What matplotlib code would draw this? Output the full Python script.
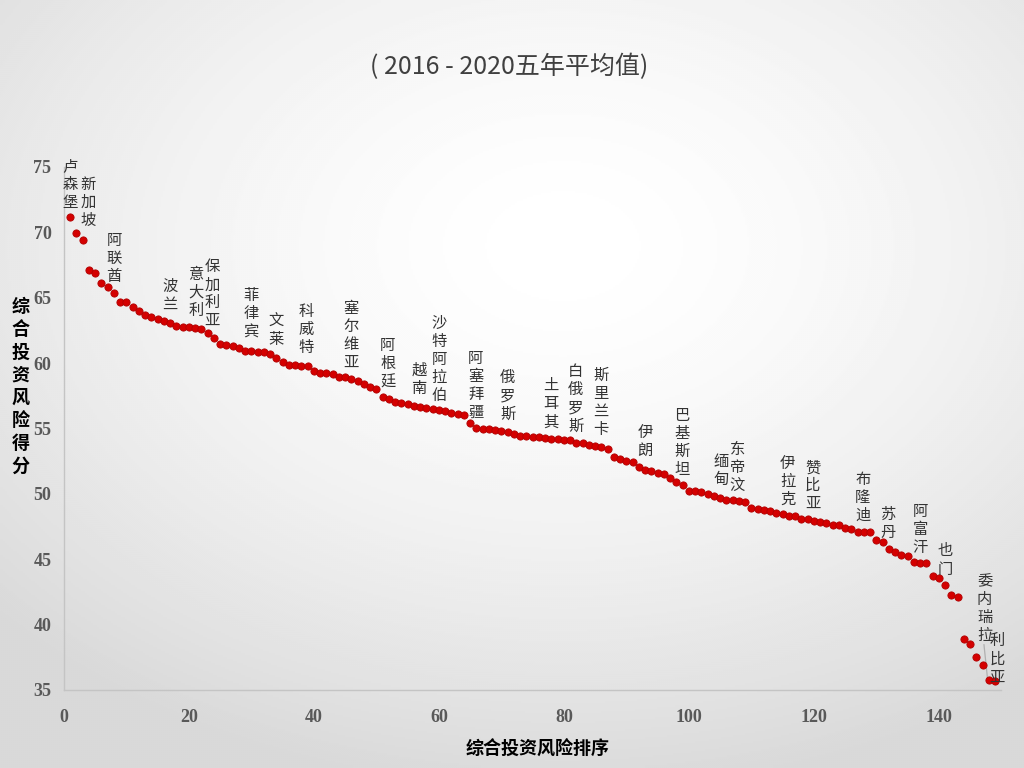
import numpy as np
import matplotlib
matplotlib.use("Agg")
import matplotlib.pyplot as plt

plt.rcParams['font.family'] = ['Noto Sans CJK SC', 'DejaVu Sans']

# ---------------- data ----------------
scores = [
    71.15, 69.93, 69.42, 67.13, 66.87, 66.11, 65.85, 65.34, 64.70, 64.70,
    64.32, 63.99, 63.69, 63.51, 63.38, 63.25, 63.05, 62.84, 62.79, 62.74,
    62.67, 62.61, 62.28, 61.93, 61.43, 61.39, 61.31, 61.14, 60.96, 60.91,
    60.88, 60.86, 60.70, 60.42, 60.07, 59.89, 59.84, 59.81, 59.81, 59.43,
    59.23, 59.23, 59.17, 58.97, 58.92, 58.77, 58.66, 58.41, 58.18, 58.03,
    57.44, 57.24, 57.06, 56.93, 56.86, 56.73, 56.67, 56.60, 56.52, 56.42,
    56.32, 56.21, 56.14, 56.06, 55.45, 55.02, 54.97, 54.95, 54.89, 54.82,
    54.72, 54.54, 54.46, 54.43, 54.38, 54.33, 54.28, 54.20, 54.18, 54.13,
    54.08, 53.92, 53.87, 53.77, 53.69, 53.62, 53.44, 52.85, 52.65, 52.55,
    52.47, 52.03, 51.83, 51.71, 51.62, 51.52, 51.24, 50.94, 50.64, 50.25,
    50.20, 50.16, 49.99, 49.80, 49.68, 49.56, 49.54, 49.42, 49.38, 48.91,
    48.83, 48.78, 48.68, 48.57, 48.49, 48.27, 48.27, 48.11, 48.06, 47.94,
    47.88, 47.76, 47.63, 47.58, 47.42, 47.30, 47.10, 47.05, 47.05, 46.44,
    46.29, 45.80, 45.52, 45.32, 45.26, 44.75, 44.70, 44.68, 43.68, 43.55,
    43.02, 42.23, 42.10, 38.92, 38.53, 37.49, 36.93, 35.73, 35.66,
]
ranks = list(range(1, len(scores) + 1))

country_names = [
    "卢森堡", "新加坡", "阿联酋", "波兰", "意大利", "保加利亚", "菲律宾", "文莱",
    "科威特", "塞尔维亚", "阿根廷", "越南", "沙特阿拉伯", "阿塞拜疆", "俄罗斯",
    "土耳其", "白俄罗斯", "斯里兰卡", "伊朗", "巴基斯坦", "缅甸", "东帝汶",
    "伊拉克", "赞比亚", "布隆迪", "苏丹", "阿富汗", "也门", "委内瑞拉", "利比亚",
]
# label anchor (top-centre) positions in data coordinates
label_x = [0.96, 3.84, 8.0, 16.96, 21.1, 23.7, 29.9, 33.9,
           38.8, 45.9, 51.8, 56.8, 60.0, 65.9, 71.0,
           77.9, 81.9, 85.9, 93.0, 98.9, 105.1, 107.7,
           115.8, 119.8, 127.8, 131.8, 137.0, 141.0, 147.3, 149.3]
label_y = [75.69, 74.31, 70.05, 66.51, 67.43, 68.02, 65.80, 63.81,
           64.58, 64.83, 61.98, 60.12, 63.69, 61.01, 59.53,
           58.92, 59.99, 59.73, 55.35, 56.63, 53.11, 54.07,
           52.98, 52.65, 51.78, 49.08, 49.33, 46.28, 43.94, 39.40]

x_ticks = [0, 20, 40, 60, 80, 100, 120, 140]
y_ticks = [35, 40, 45, 50, 55, 60, 65, 70, 75]

title_text = "( 2016 - 2020五年平均值)"
x_label = "综合投资风险排序"
y_label = "综合投资风险得分"

# ---------------- figure ----------------
fig = plt.figure(figsize=(10.24, 7.68), dpi=100)

# background radial gradient
bg = fig.add_axes([0, 0, 1, 1], zorder=-10)
yy, xx = np.mgrid[0:1:384j, 0:1:512j]
r = np.sqrt(((xx - 0.55) / 1.0) ** 2 + ((yy - 0.32) / 0.95) ** 2)
val = 1.0 - 0.15 * np.clip(r / 0.75, 0, 1) ** 1.6
bg.imshow(val, cmap='gray', vmin=0, vmax=1, aspect='auto',
          extent=[0, 1, 0, 1], origin='upper', interpolation='bilinear')
bg.axis('off')

ax = fig.add_axes([0.0625, 0.1016, 0.978 - 0.0625, 0.7826 - 0.1016])
ax.set_facecolor('none')

ax.plot(ranks, scores, linestyle='none', marker='o', markersize=5.2,
        markerfacecolor='#d40000', markeredgecolor='#b00000',
        markeredgewidth=0.6, zorder=3, clip_on=False)

ax.set_xlim(0, 150)
ax.set_ylim(35, 75)
ax.set_xticks(x_ticks)
ax.set_yticks(y_ticks)

for s in ['top', 'right']:
    ax.spines[s].set_visible(False)
for s in ['left', 'bottom']:
    ax.spines[s].set_color('#c4c4c4')
    ax.spines[s].set_linewidth(1.0)

ax.tick_params(axis='both', length=0)
ax.tick_params(axis='y', pad=9)
ax.tick_params(axis='x', pad=14)
for lab in ax.get_xticklabels() + ax.get_yticklabels():
    lab.set_fontfamily('Liberation Serif')
    lab.set_fontweight('bold')
    lab.set_fontsize(13)
    lab.set_color('#595959')

# country labels
for name, lx, ly in zip(country_names, label_x, label_y):
    ax.text(lx, ly, "\n".join(name), ha='center', va='top',
            fontsize=11, color='#333333', linespacing=1.08,
            clip_on=False, zorder=4)

# leader line for 委内瑞拉
ax.plot([147.2, 147.75], [38.46, 35.95], color='#b0b0b0', linewidth=0.9,
        zorder=2, clip_on=False)

# title
fig.text(0.497, 0.913, title_text, ha='center', va='center',
         fontsize=18, color='#404040')

# axis labels
fig.text(0.525, 0.025, x_label, ha='center', va='center',
         fontsize=13, fontweight='bold', color='#000000')
fig.text(0.02, 0.497, "\n".join(y_label), ha='center', va='center',
         fontsize=13, fontweight='bold', color='#000000', linespacing=1.25)

fig.savefig("out.png", dpi=100)
